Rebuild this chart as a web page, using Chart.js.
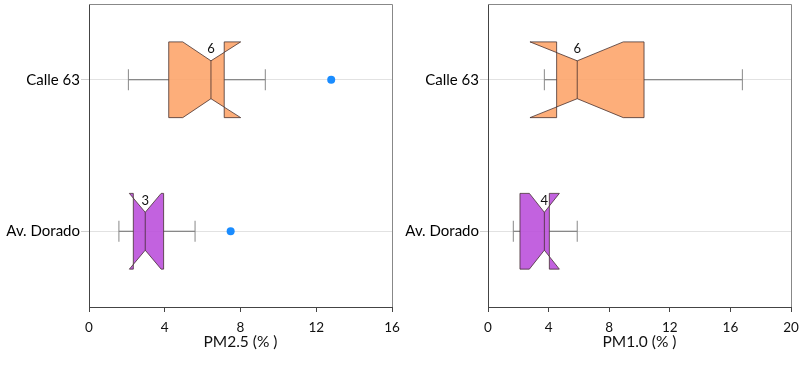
<!DOCTYPE html>
<html>
<head>
<meta charset="utf-8">
<script src="https://cdn.jsdelivr.net/npm/chart.js@4"></script>
<style>
    html, body { margin: 0; padding: 0; background: #fff; }
    #wrap { position: relative; width: 802px; height: 365px; }
    canvas { position: absolute; top: 0; }
</style>
</head>
<body>
<div id="wrap">
    <canvas id="pm25" width="400" height="365" style="left:0"></canvas>
    <canvas id="pm10" width="402" height="365" style="left:400px"></canvas>
</div>
<script>
// categories (top to bottom)
const categories = ["Calle 63", "Av. Dorado"];

// PM2.5 panel, one value per category
const pm25WhiskerLow = [2.08, 1.58];
const pm25Q1 = [4.21, 2.34];
const pm25NotchLow = [4.95, 2.13];
const pm25Median = [6.44, 2.97];
const pm25NotchHigh = [8.01, 3.81];
const pm25Q3 = [7.14, 3.94];
const pm25WhiskerHigh = [9.31, 5.60];
const pm25Outliers = [12.79, 7.48];
const pm25Ticks = [0, 4, 8, 12, 16];

// PM1.0 panel
const pm10WhiskerLow = [3.72, 1.67];
const pm10Q1 = [4.53, 2.11];
const pm10NotchLow = [2.77, 2.73];
const pm10Median = [5.89, 3.72];
const pm10NotchHigh = [8.93, 4.71];
const pm10Q3 = [10.30, 4.05];
const pm10WhiskerHigh = [16.79, 5.89];
const pm10Outliers = [null, null];
const pm10Ticks = [0, 4, 8, 12, 16, 20];

const boxFills = ["rgba(253,165,108,0.9)", "rgba(187,81,219,0.9)"];
const FONT = "Lato, 'Open Sans', sans-serif";

const notchedBoxes = {
    id: "notchedBoxes",
    beforeDatasetsDraw(chart, args, opts) {
        const ctx = chart.ctx;
        const xs = chart.scales.x;
        const ys = chart.scales.y;
        const band = Math.abs(ys.getPixelForValue(1) - ys.getPixelForValue(0));
        const h = band * 0.25;
        const b = opts.boxes;

        categories.forEach((cat, i) => {
            const yc = ys.getPixelForValue(i);
            const px = v => xs.getPixelForValue(v);
            const wLo = px(b.whiskerLow[i]), wHi = px(b.whiskerHigh[i]);
            const q1 = px(b.q1[i]), q3 = px(b.q3[i]);
            const nLo = px(b.notchLow[i]), nHi = px(b.notchHigh[i]);
            const med = px(b.median[i]);
            const top = yc - h, bot = yc + h;

            ctx.save();
            // whiskers
            ctx.strokeStyle = "#6b6b6b";
            ctx.lineWidth = 1;
            ctx.beginPath();
            ctx.moveTo(wLo, yc); ctx.lineTo(q1, yc);
            ctx.moveTo(q3, yc); ctx.lineTo(wHi, yc);
            ctx.stroke();
            ctx.strokeStyle = "#888";
            ctx.beginPath();
            ctx.moveTo(wLo, yc - 10.5); ctx.lineTo(wLo, yc + 10.5);
            ctx.moveTo(wHi, yc - 10.5); ctx.lineTo(wHi, yc + 10.5);
            ctx.stroke();

            // notched box
            ctx.beginPath();
            ctx.moveTo(q1, top);
            ctx.lineTo(nLo, top);
            ctx.lineTo(med, yc - h / 2);
            ctx.lineTo(nHi, top);
            ctx.lineTo(q3, top);
            ctx.lineTo(q3, bot);
            ctx.lineTo(nHi, bot);
            ctx.lineTo(med, yc + h / 2);
            ctx.lineTo(nLo, bot);
            ctx.lineTo(q1, bot);
            ctx.closePath();
            ctx.fillStyle = boxFills[i];
            ctx.fill();
            ctx.strokeStyle = "rgba(60,40,40,0.75)";
            ctx.stroke();

            // median
            ctx.beginPath();
            ctx.moveTo(med, yc - h / 2);
            ctx.lineTo(med, yc + h / 2);
            ctx.stroke();

            ctx.fillStyle = "#111";
            ctx.font = "13px " + FONT;
            ctx.textAlign = "center";
            ctx.textBaseline = "middle";
            ctx.fillText(String(Math.round(b.median[i])), med, top + 7);
            ctx.restore();
        });
    },
    afterDraw(chart) {
        const a = chart.chartArea;
        const ctx = chart.ctx;
        ctx.save();
        ctx.strokeStyle = "#888";
        ctx.lineWidth = 1;
        ctx.beginPath();
        ctx.moveTo(a.left, a.top + 0.5);
        ctx.lineTo(a.right + 0.5, a.top + 0.5);
        ctx.lineTo(a.right + 0.5, a.bottom);
        ctx.stroke();
        ctx.restore();
    }
};

function makePanel(canvas, title, ticks, boxes, outliers, yWidth, padRight) {
    return new Chart(canvas, {
        type: "scatter",
        data: {
            datasets: [
                {
                    data: outliers
                        .map((v, i) => v === null ? null : { x: v, y: categories[i] })
                        .filter(p => p !== null),
                    pointRadius: 4,
                    pointHoverRadius: 4,
                    backgroundColor: "#1a8cff",
                    borderWidth: 0
                }
            ]
        },
        options: {
            responsive: false,
            animation: false,
            layout: {
                padding: { top: 4, right: padRight, left: 0, bottom: 0 }
            },
            plugins: {
                legend: { display: false },
                tooltip: { enabled: false },
                notchedBoxes: { boxes: boxes }
            },
            scales: {
                x: {
                    type: "linear",
                    min: ticks[0],
                    max: ticks[ticks.length - 1],
                    afterBuildTicks: s => { s.ticks = ticks.map(v => ({ value: v })); },
                    afterFit: s => {
                        s.height = 58;
                        s.paddingLeft = 0;
                        s.paddingRight = 0;
                    },
                    grid: {
                        drawOnChartArea: false,
                        tickLength: 5,
                        tickColor: "#444"
                    },
                    border: { color: "#444" },
                    ticks: {
                        font: { family: FONT, size: 13.5 },
                        color: "#111",
                        padding: 8
                    },
                    title: {
                        display: true,
                        text: title,
                        font: { family: FONT, size: 15.5 },
                        color: "#111",
                        padding: { top: 0, bottom: 14 }
                    }
                },
                y: {
                    type: "category",
                    labels: categories,
                    offset: true,
                    afterFit: s => {
                        s.width = yWidth;
                        s.paddingTop = 0;
                        s.paddingBottom = 0;
                    },
                    grid: {
                        color: "#e2e2e2",
                        offset: false,
                        tickLength: 8,
                        tickColor: "#d0d0d0"
                    },
                    border: { color: "#444" },
                    ticks: {
                        font: { family: FONT, size: 15 },
                        color: "#000",
                        padding: 1
                    }
                }
            }
        },
        plugins: [notchedBoxes]
    });
}

makePanel(
    document.getElementById("pm25"),
    "PM2.5 (% )",
    pm25Ticks,
    {
        whiskerLow: pm25WhiskerLow, q1: pm25Q1, notchLow: pm25NotchLow,
        median: pm25Median, notchHigh: pm25NotchHigh, q3: pm25Q3,
        whiskerHigh: pm25WhiskerHigh
    },
    pm25Outliers,
    89, 8
);

makePanel(
    document.getElementById("pm10"),
    "PM1.0 (% )",
    pm10Ticks,
    {
        whiskerLow: pm10WhiskerLow, q1: pm10Q1, notchLow: pm10NotchLow,
        median: pm10Median, notchHigh: pm10NotchHigh, q3: pm10Q3,
        whiskerHigh: pm10WhiskerHigh
    },
    pm10Outliers,
    88, 11
);
</script>
</body>
</html>
